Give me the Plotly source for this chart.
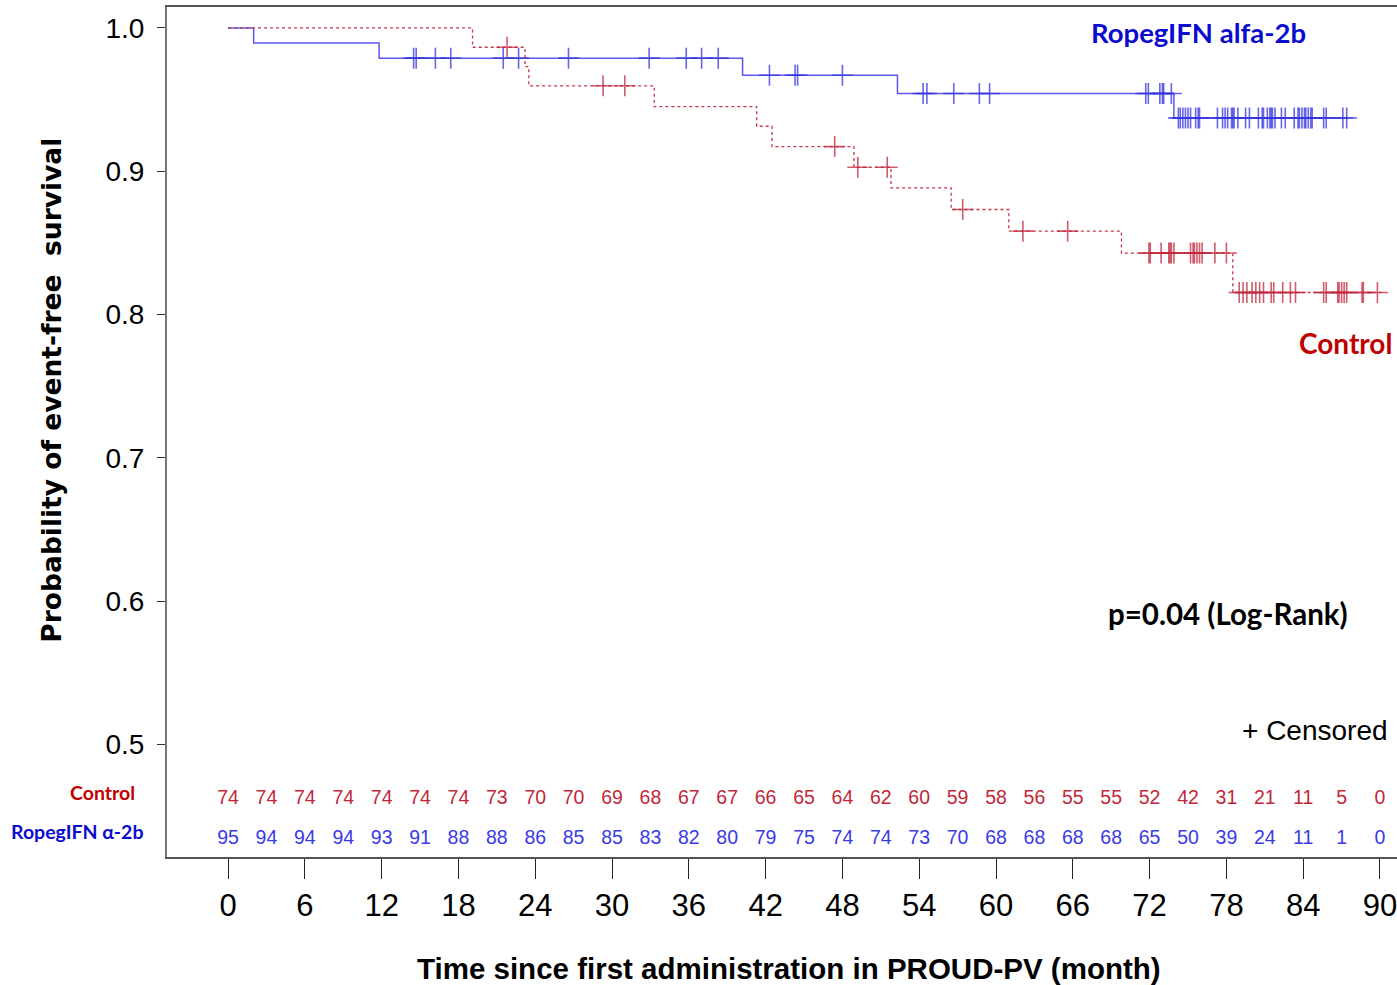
import plotly.graph_objects as go

# ---------------- data ----------------
# Kaplan-Meier step curves (time in months, survival probability after the step)
ropeg_step_t = [0, 2.0, 11.8, 40.2, 52.3, 73.9]
ropeg_step_s = [1.0, 0.9895, 0.9789, 0.9670, 0.9542, 0.9372]
ropeg_end_t = 87.5

ctrl_step_t = [0, 19.1, 23.2, 23.5, 33.3, 41.3, 42.5, 48.9, 51.8, 56.5, 61.0, 69.8, 78.5]
ctrl_step_s = [1.0, 0.9865, 0.9730, 0.9596, 0.9451, 0.9314, 0.9172, 0.9028, 0.8884,
               0.8733, 0.8582, 0.8429, 0.8154]
ctrl_end_t = 90.1

# censoring times
ropeg_cens = [14.5, 14.7, 16.2, 17.4, 21.5, 22.7, 26.6, 32.9, 35.8, 37.0, 38.3,
              42.3, 44.3, 44.5, 48.0, 54.3, 54.6, 56.7, 58.7, 59.5,
              71.7, 71.9, 72.8, 73.0, 73.1, 73.7,
              74.25, 74.4, 74.6, 74.8, 75.0, 75.2, 75.6, 75.8, 75.9,
              77.3, 77.7, 77.9, 78.1, 78.4, 78.5, 78.6, 78.9, 79.5, 79.8,
              80.5, 80.8, 80.9, 81.2, 81.4, 81.5, 81.6, 81.8, 82.3, 82.6,
              83.3, 83.6, 83.7, 83.9, 84.1, 84.2, 84.4, 84.6, 84.7, 85.6, 85.8,
              87.1, 87.4]
ctrl_cens = [21.8, 29.3, 31.0, 47.4, 49.2, 51.5, 57.4, 62.1, 65.6,
             71.95, 72.05, 72.9, 73.5, 73.6, 73.7, 73.9, 75.2, 75.4, 75.5, 75.7,
             75.9, 76.1, 77.1, 78.0,
             79.0, 79.3, 79.6, 80.0, 80.3, 80.6, 80.9, 81.5, 81.7, 82.4, 83.0,
             83.4, 85.6, 85.8, 86.7, 86.8, 87.0, 87.2, 87.4, 88.6, 88.7, 89.8]

# numbers at risk (every 3 months)
risk_times = list(range(0, 91, 3))
risk_ctrl = [74, 74, 74, 74, 74, 74, 74, 73, 70, 70, 69, 68, 67, 67, 66, 65,
             64, 62, 60, 59, 58, 56, 55, 55, 52, 42, 31, 21, 11, 5, 0]
risk_ropeg = [95, 94, 94, 94, 93, 91, 88, 88, 86, 85, 85, 83, 82, 80, 79, 75,
              74, 74, 73, 70, 68, 68, 68, 68, 65, 50, 39, 24, 11, 1, 0]

x_ticks = list(range(0, 91, 6))
y_ticks = [0.5, 0.6, 0.7, 0.8, 0.9, 1.0]

# ---------------- styling ----------------
BLUE_LINE = "#5a5af0"
BLUE_MARK = "#3434e0"
RED_LINE = "#c8364a"
RED_MARK = "#c2263c"
BLUE_TXT = "#0b0bd0"
RED_TXT = "#c00000"
RISK_RED = "#c0283a"
RISK_BLUE = "#3a3ae6"


def step_value(ts, ss, t):
    v = ss[0]
    for ti, si in zip(ts, ss):
        if ti <= t:
            v = si
    return v


fig = go.Figure()

# Ropeg curve
fig.add_trace(go.Scatter(
    x=ropeg_step_t + [ropeg_end_t], y=ropeg_step_s + [ropeg_step_s[-1]],
    mode="lines", line=dict(color=BLUE_LINE, width=1.5, shape="hv"),
    name="RopegIFN alfa-2b", showlegend=False, hoverinfo="skip"))
fig.add_trace(go.Scatter(
    x=ropeg_cens, y=[step_value(ropeg_step_t, ropeg_step_s, t) for t in ropeg_cens],
    mode="markers",
    marker=dict(symbol="cross-thin", size=15, opacity=0.75,
                line=dict(color=BLUE_MARK, width=1.6)),
    showlegend=False, hoverinfo="skip"))

# Control curve
fig.add_trace(go.Scatter(
    x=ctrl_step_t + [ctrl_end_t], y=ctrl_step_s + [ctrl_step_s[-1]],
    mode="lines", line=dict(color=RED_LINE, width=1.3, shape="hv", dash="dot"),
    name="Control", showlegend=False, hoverinfo="skip"))
fig.add_trace(go.Scatter(
    x=ctrl_cens, y=[step_value(ctrl_step_t, ctrl_step_s, t) for t in ctrl_cens],
    mode="markers",
    marker=dict(symbol="cross-thin", size=15, opacity=0.75,
                line=dict(color=RED_MARK, width=1.6)),
    showlegend=False, hoverinfo="skip"))

# numbers at risk
fig.add_trace(go.Scatter(
    x=risk_times, y=[0.4616] * len(risk_times), mode="text",
    text=[str(v) for v in risk_ctrl],
    textfont=dict(family="Liberation Sans, Arial", size=19.5, color=RISK_RED),
    showlegend=False, hoverinfo="skip"))
fig.add_trace(go.Scatter(
    x=risk_times, y=[0.4337] * len(risk_times), mode="text",
    text=[str(v) for v in risk_ropeg],
    textfont=dict(family="Liberation Sans, Arial", size=19.5, color=RISK_BLUE),
    showlegend=False, hoverinfo="skip"))

annots = [
    dict(x=75.8, y=0.9965, text="<b>RopegIFN alfa-2b</b>", xref="x", yref="y",
         font=dict(family="Lato, Open Sans", size=27.5, color=BLUE_TXT)),
    dict(x=87.3, y=0.7803, text="<b>Control</b>", xref="x", yref="y",
         font=dict(family="Lato, Open Sans", size=28, color=RED_TXT)),
    dict(x=78.1, y=0.5914, text="<b>p=0.04 (Log-Rank)</b>", xref="x", yref="y",
         font=dict(family="Lato, Open Sans", size=29.5, color="black")),
    dict(x=84.9, y=0.5098, text="+ Censored", xref="x", yref="y",
         font=dict(family="Liberation Sans, Arial", size=28, color="black")),
    dict(x=-0.0244, y=0.4665, text="<b>Control</b>", xref="paper", yref="y",
         xanchor="right", font=dict(family="Lato, Open Sans", size=19.5, color=RED_TXT)),
    dict(x=-0.0179, y=0.4393, text="<b>RopegIFN α-2b</b>", xref="paper", yref="y",
         xanchor="right", font=dict(family="Lato, Open Sans", size=19.5, color=BLUE_TXT)),
    # y-axis title, centred on the 0.5-1.0 part of the axis as in the reference
    dict(x=-0.0935, y=0.7476, text="<b>Probability of event-free  survival</b>",
         xref="paper", yref="y", textangle=-90,
         font=dict(family="DejaVu Sans", size=26.5, color="black")),
]
for a in annots:
    a.setdefault("xanchor", "center")
    a["yanchor"] = "middle"
    a["showarrow"] = False
fig.update_layout(annotations=annots)

fig.update_layout(
    width=1397, height=985,
    margin=dict(l=167, r=0, t=7, b=128),
    paper_bgcolor="white", plot_bgcolor="white",
    font=dict(family="Liberation Sans, Arial", color="black"),
    xaxis=dict(
        range=[-4.77, 91.33], tickmode="array", tickvals=x_ticks,
        ticktext=[str(v) for v in x_ticks],
        ticks="outside", ticklen=20, tickwidth=1, tickcolor="#222",
        ticklabeloverflow="allow",
        tickfont=dict(family="Liberation Sans, Arial", size=31),
        showline=True, linecolor="#555", linewidth=2, mirror=True,
        showgrid=False, zeroline=False,
    ),
    yaxis=dict(
        range=[0.4215, 1.0146], tickmode="array", tickvals=y_ticks,
        ticktext=["%.1f" % v for v in y_ticks],
        ticks="outside", ticklen=8, tickwidth=1, tickcolor="#333",
        ticklabelstandoff=7,
        tickfont=dict(family="Liberation Sans, Arial", size=28),
        showline=True, linecolor="#777", linewidth=2, mirror=False,
        showgrid=False, zeroline=False,
    ),
)
# x-axis title placed as in the reference
fig.add_annotation(x=0.5057, y=-0.1306, xref="paper", yref="paper",
                   text="<b>Time since first administration in PROUD-PV (month)</b>",
                   showarrow=False, xanchor="center", yanchor="middle",
                   font=dict(family="Liberation Sans, Arial", size=29.5, color="black"))

fig.write_html("out.html")
